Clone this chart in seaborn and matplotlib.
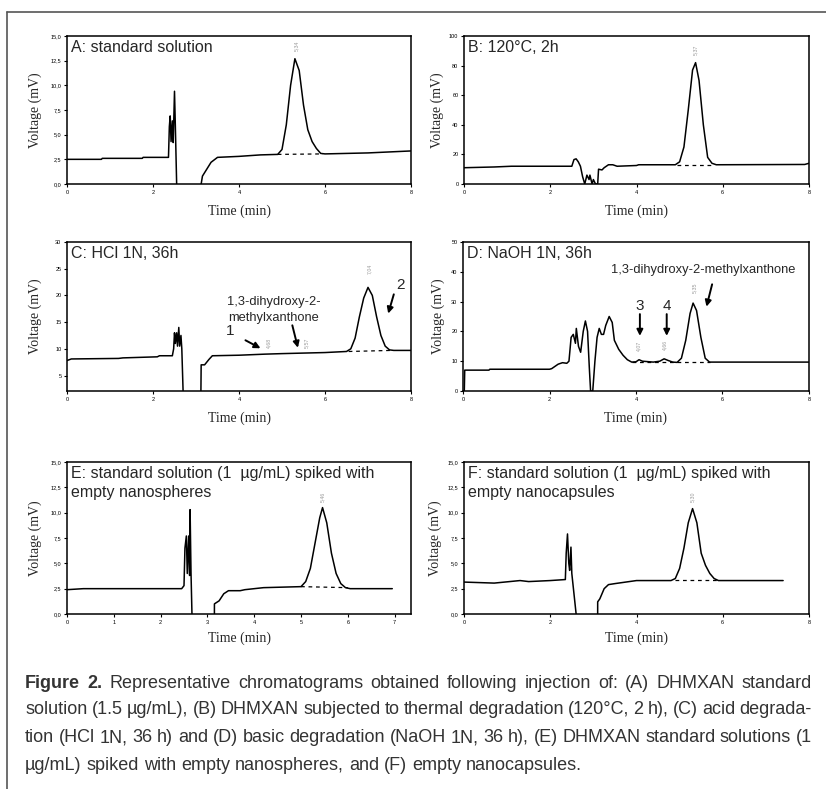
import pandas as pd
import seaborn as sns
import matplotlib.pyplot as plt
from matplotlib.lines import Line2D
from matplotlib import font_manager

# -------------------------------------------------------
# DATA
# -------------------------------------------------------
# A: standard solution
a_time = [0.0, 0.8, 0.82, 1.75, 1.77, 2.36, 2.38, 2.40, 2.42, 2.45, 2.47, 2.50, 2.52, 2.55, 2.56,
          3.12, 3.15, 3.25, 3.35, 3.5, 4.0, 4.5, 4.9, 5.0, 5.1, 5.2, 5.3, 5.4, 5.5, 5.6, 5.7,
          5.8, 5.9, 6.0, 7.0, 8.0]
a_volt = [2.5, 2.5, 2.6, 2.6, 2.7, 2.7, 5.8, 6.9, 4.3, 6.4, 4.2, 9.4, 5.8, 0.0, -20,
          0.0, 0.8, 1.5, 2.2, 2.7, 2.8, 2.95, 3.0, 3.5, 6.0, 10.0, 12.7, 11.5, 8.0, 5.5, 4.3,
          3.6, 3.1, 3.05, 3.15, 3.35]
a_base_time = [4.9, 5.95]
a_base_volt = [3.0, 3.05]
a_peak_x = [5.34]
a_peak_y = [14.0]
a_peak_txt = ["5,34"]

# B: 120°C, 2h
b_time = [0.0, 0.7, 1.1, 2.5, 2.55, 2.6, 2.65, 2.7, 2.75, 2.8, 2.85, 2.9, 2.92, 2.97, 3.0, 3.05,
          3.1, 3.12, 3.2, 3.25, 3.35, 3.45, 3.55, 4.0, 4.05, 4.9, 5.0, 5.1, 5.2, 5.3, 5.37,
          5.45, 5.55, 5.65, 5.75, 5.85, 7.9, 8.0]
b_volt = [11.0, 11.5, 12.0, 12.0, 16.5, 17.0, 15.0, 12.0, 5.0, 0.0, 6.0, 3.0, 6.0, 0.0, 3.0, 0.0,
          0.0, 10.0, 9.5, 11.0, 13.0, 13.0, 12.0, 12.5, 13.0, 13.0, 15.0, 25.0, 50.0, 77.0, 82.0,
          70.0, 40.0, 18.0, 14.0, 13.0, 13.2, 14.0]
b_base_time = [4.95, 5.8]
b_base_volt = [13.0, 13.0]
b_peak_x = [5.37]
b_peak_y = [91.0]
b_peak_txt = ["5,37"]

# C: HCl 1N, 36h
c_time = [0.0, 0.1, 1.2, 1.3, 2.1, 2.15, 2.45, 2.48, 2.5, 2.52, 2.55, 2.57, 2.6, 2.62, 2.65,
          2.67, 2.7, 2.72, 3.1, 3.12, 3.2, 3.25, 3.3, 3.38, 4.0, 4.6, 5.0, 6.0, 6.5, 6.6, 6.7,
          6.8, 6.9, 7.0, 7.1, 7.2, 7.3, 7.4, 7.5, 7.6, 8.0]
c_volt = [7.8, 8.1, 8.2, 8.3, 8.5, 8.7, 8.7, 10.0, 13.0, 11.0, 13.0, 10.5, 14.0, 10.5, 12.5,
          10.0, 2.0, -10, -10, 7.0, 7.0, 7.5, 8.0, 8.7, 8.8, 9.0, 9.1, 9.3, 9.5, 10.0, 12.0,
          16.0, 19.5, 21.5, 20.0, 16.0, 12.5, 10.5, 9.8, 9.7, 9.7]
c_base_time = [6.55, 7.55]
c_base_volt = [9.5, 9.7]
c_peak_x = [4.68, 5.57, 7.04]
c_peak_y = [11.2, 11.2, 25.0]
c_peak_txt = ["4,68", "5,57", "7,04"]

# D: NaOH 1N, 36h
d_time = [0.0, 0.03, 0.04, 0.6, 0.62, 2.0, 2.05, 2.1, 2.2, 2.3, 2.4, 2.45, 2.5, 2.55, 2.6, 2.62,
          2.67, 2.72, 2.78, 2.83, 2.88, 2.92, 2.95, 3.0, 3.05, 3.1, 3.15, 3.2, 3.25, 3.3, 3.38,
          3.45, 3.5, 3.6, 3.7, 3.8, 3.9, 4.0, 4.07, 4.15, 4.4, 4.55, 4.65, 4.75, 4.85, 4.95,
          5.05, 5.15, 5.25, 5.32, 5.4, 5.5, 5.6, 5.7, 8.0]
d_volt = [0.0, 0.0, 7.0, 7.0, 7.3, 7.3, 7.5, 8.0, 9.0, 9.5, 9.3, 10.0, 18.0, 19.0, 16.0, 21.0,
          15.0, 13.0, 20.0, 23.5, 20.0, 8.0, 0.0, 0.0, 10.0, 18.0, 21.0, 19.0, 19.0, 22.0, 25.0,
          23.0, 17.0, 14.0, 12.0, 10.5, 9.7, 9.8, 10.5, 10.0, 9.7, 10.0, 10.8, 10.2, 9.7, 9.6,
          11.0, 17.0, 26.0, 29.5, 27.0, 18.0, 11.0, 9.7, 9.7]
d_base_time = [3.9, 5.7]
d_base_volt = [9.6, 9.6]
d_peak_x = [4.07, 4.66, 5.35]
d_peak_y = [15.3, 15.3, 34.7]
d_peak_txt = ["4,07", "4,66", "5,35"]

# E: standard solution spiked with empty nanospheres
e_time = [0.0, 0.35, 2.45, 2.5, 2.52, 2.55, 2.57, 2.6, 2.62, 2.63, 2.65, 2.67, 2.68,
          3.14, 3.15, 3.25, 3.35, 3.45, 3.7, 3.8, 4.0, 4.2, 5.0, 5.1, 5.2, 5.3, 5.4, 5.46,
          5.55, 5.65, 5.75, 5.85, 5.95, 6.05, 6.95]
e_volt = [2.4, 2.5, 2.5, 2.8, 6.5, 7.7, 4.0, 7.7, 3.8, 10.3, 4.0, 0.0, -20,
          -20, 1.0, 1.3, 2.0, 2.3, 2.3, 2.4, 2.5, 2.6, 2.7, 3.2, 4.5, 7.0, 9.5, 10.5,
          9.0, 6.0, 4.0, 3.0, 2.6, 2.5, 2.5]
e_base_time = [5.0, 6.0]
e_base_volt = [2.7, 2.6]
e_peak_x = [5.46]
e_peak_y = [11.6]
e_peak_txt = ["5,46"]

# F: standard solution spiked with empty nanocapsules
f_time = [0.0, 0.7, 1.3, 1.5, 2.0, 2.35, 2.37, 2.40, 2.43, 2.45, 2.48, 2.50, 2.6, 2.61,
          3.09, 3.1, 3.15, 3.25, 3.35, 3.5, 4.0, 4.8, 4.9, 5.0, 5.1, 5.2, 5.3, 5.4, 5.5, 5.6,
          5.7, 5.8, 5.9, 7.4]
f_volt = [3.15, 3.05, 3.3, 3.2, 3.3, 3.4, 6.0, 7.9, 5.0, 4.3, 6.6, 4.0, 0.0, -20,
          -20, 1.2, 1.5, 2.5, 2.9, 3.0, 3.3, 3.3, 3.5, 4.5, 6.5, 9.0, 10.4, 9.0, 6.0, 4.8,
          4.0, 3.5, 3.3, 3.3]
f_base_time = [4.9, 5.9]
f_base_volt = [3.35, 3.35]
f_peak_x = [5.30]
f_peak_y = [11.6]
f_peak_txt = ["5,30"]

titles = [["A: standard solution"], ["B: 120°C, 2h"], ["C: HCl 1N, 36h"], ["D: NaOH 1N, 36h"],
          ["E: standard solution (1  µg/mL) spiked with", "empty nanospheres"],
          ["F: standard solution (1  µg/mL) spiked with", "empty nanocapsules"]]

comma_ticks = [0.0, 2.5, 5.0, 7.5, 10.0, 12.5, 15.0]
comma_labels = ["0,0", "2,5", "5,0", "7,5", "10,0", "12,5", "15,0"]

caption_lines = [
    "Figure 2. Representative chromatograms obtained following injection of: (A) DHMXAN standard",
    "solution (1.5 µg/mL), (B) DHMXAN subjected to thermal degradation (120°C, 2 h), (C) acid degrada-",
    "tion (HCl 1N, 36 h) and (D) basic degradation (NaOH 1N, 36 h), (E) DHMXAN standard solutions (1",
    "µg/mL) spiked with empty nanospheres, and (F) empty nanocapsules.",
]

# -------------------------------------------------------
# STYLE
# -------------------------------------------------------
sns.set_style("ticks")
plt.rcParams['font.family'] = ['Liberation Sans', 'DejaVu Sans']
SERIF = 'Liberation Serif'
names = {f.name for f in font_manager.fontManager.ttflist}
CAP_FONT = 'Liberation Sans Narrow' if 'Liberation Sans Narrow' in names else 'Liberation Sans'

W, H = 826, 789
fig = plt.figure(figsize=(W / 100, H / 100), dpi=100)


def px_axes(left, top, right, bottom):
    return fig.add_axes([left / W, 1 - bottom / H, (right - left) / W, (bottom - top) / H])


def draw_panel(ax, t, v, bt, bv, px, py, ptxt, title, xlim, ylim, xticks, yticks, ylabels,
               ylab_off, xlab_off):
    df = pd.DataFrame({'Time': t, 'Voltage': v})
    sns.lineplot(data=df, x='Time', y='Voltage', sort=False, estimator=None, ax=ax,
                 color='black', lw=1.1)
    base = pd.DataFrame({'Time': bt, 'Voltage': bv})
    sns.lineplot(data=base, x='Time', y='Voltage', sort=False, estimator=None, ax=ax,
                 color='black', lw=0.9, linestyle=(0, (3, 3)))
    for x, y, s in zip(px, py, ptxt):
        ax.text(x, y, s, rotation=90, ha='center', va='center', fontsize=3.8, color='#9a9a9a')
    ax.set_xlim(*xlim)
    ax.set_ylim(*ylim)
    ax.set_xticks(xticks)
    ax.set_xticklabels([str(x) for x in xticks], fontsize=4)
    ax.set_yticks(yticks)
    ax.set_yticklabels(ylabels, fontsize=4)
    ax.tick_params(direction='out', length=2.5, width=0.8, pad=1.5, colors='black')
    for sp in ax.spines.values():
        sp.set_linewidth(1.1)
        sp.set_color('black')
    ax.set_xlabel('Time (min)', family=SERIF, fontsize=10)
    ax.set_ylabel('Voltage (mV)', family=SERIF, fontsize=10)
    ax.xaxis.set_label_coords(0.5, xlab_off)
    ax.yaxis.set_label_coords(ylab_off, 0.5)
    h = ax.get_window_extent().height
    for k, line in enumerate(title):
        ax.text(0.012, 1 - (4 + 19 * k) / h, line, transform=ax.transAxes, ha='left', va='top',
                fontsize=11.5)


axA = px_axes(67, 36, 411, 184)
draw_panel(axA, a_time, a_volt, a_base_time, a_base_volt, a_peak_x, a_peak_y, a_peak_txt,
           titles[0], (0, 8), (0, 15), [0, 2, 4, 6, 8], comma_ticks, comma_labels,
           -25 / 344, -21 / 148)

axB = px_axes(464, 36, 809, 184)
draw_panel(axB, b_time, b_volt, b_base_time, b_base_volt, b_peak_x, b_peak_y, b_peak_txt,
           titles[1], (0, 8), (0, 100), [0, 2, 4, 6, 8], [0, 20, 40, 60, 80, 100],
           ["0", "20", "40", "60", "80", "100"], -20 / 345, -21 / 148)

axC = px_axes(67, 242, 411, 391)
draw_panel(axC, c_time, c_volt, c_base_time, c_base_volt, c_peak_x, c_peak_y, c_peak_txt,
           titles[2], (0, 8), (2.1, 30), [0, 2, 4, 6, 8], [5, 10, 15, 20, 25, 30],
           ["5", "10", "15", "20", "25", "30"], -25 / 344, -21 / 149)

axD = px_axes(463, 242, 809, 391)
draw_panel(axD, d_time, d_volt, d_base_time, d_base_volt, d_peak_x, d_peak_y, d_peak_txt,
           titles[3], (0, 8), (0, 50), [0, 2, 4, 6, 8], [0, 10, 20, 30, 40, 50],
           ["0", "10", "20", "30", "40", "50"], -18 / 346, -21 / 149)

axE = px_axes(67, 462, 411, 614)
draw_panel(axE, e_time, e_volt, e_base_time, e_base_volt, e_peak_x, e_peak_y, e_peak_txt,
           titles[4], (0, 7.35), (0, 15), [0, 1, 2, 3, 4, 5, 6, 7], comma_ticks, comma_labels,
           -25 / 344, -18 / 152)

axF = px_axes(464, 462, 809, 614)
draw_panel(axF, f_time, f_volt, f_base_time, f_base_volt, f_peak_x, f_peak_y, f_peak_txt,
           titles[5], (0, 8), (0, 15), [0, 2, 4, 6, 8], comma_ticks, comma_labels,
           -22 / 345, -18 / 152)

# annotations with arrows
arr = dict(arrowstyle='-|>', color='black', lw=1.4, mutation_scale=9, shrinkA=0, shrinkB=0)
axC.text(3.8, 13.3, "1", fontsize=11, ha='center', va='center')
axC.annotate("", xy=(4.5, 10.1), xytext=(4.15, 11.6), arrowprops=arr)
axC.text(4.8, 17.3, "1,3-dihydroxy-2-\nmethylxanthone", fontsize=9.3, ha='center',
         va='center', linespacing=1.4)
axC.annotate("", xy=(5.37, 10.2), xytext=(5.24, 14.4), arrowprops=arr)
axC.text(7.75, 22.0, "2", fontsize=11, ha='center', va='center')
axC.annotate("", xy=(7.47, 16.6), xytext=(7.6, 20.2), arrowprops=arr)

axD.text(4.09, 28.6, "3", fontsize=11, ha='center', va='center')
axD.annotate("", xy=(4.09, 18.5), xytext=(4.09, 25.8), arrowprops=arr)
axD.text(4.71, 28.6, "4", fontsize=11, ha='center', va='center')
axD.annotate("", xy=(4.71, 18.5), xytext=(4.71, 25.8), arrowprops=arr)
axD.text(5.55, 40.5, "1,3-dihydroxy-2-methylxanthone", fontsize=9.3, ha='center', va='center')
axD.annotate("", xy=(5.63, 28.3), xytext=(5.76, 35.8), arrowprops=arr)

# frame lines of the figure box
frame_col = '#555555'
fig.add_artist(Line2D([7 / W, 7 / W], [0, 1 - 12 / H], color=frame_col, lw=1.2))
fig.add_artist(Line2D([7 / W, 1], [1 - 12 / H, 1 - 12 / H], color=frame_col, lw=1.2))

# -------------------------------------------------------
# CAPTION (justified word by word)
# -------------------------------------------------------
cap_left, cap_right = 25, 812
cap_y = [683, 710, 738, 765]
cap_size = 13
cap_col = '#333333'
fig.canvas.draw()
renderer = fig.canvas.get_renderer()
for i, line in enumerate(caption_lines):
    words = line.split(' ')
    arts = []
    for j, w in enumerate(words):
        bold = (i == 0 and j < 2)
        t = fig.text(0, 1 - cap_y[i] / H, w, fontsize=cap_size, family=CAP_FONT,
                     fontweight='bold' if bold else 'normal', color=cap_col,
                     ha='left', va='center')
        arts.append(t)
    widths = [a.get_window_extent(renderer).width for a in arts]
    t1 = fig.text(0, 0, 'a b', fontsize=cap_size, family=CAP_FONT)
    t2 = fig.text(0, 0, 'ab', fontsize=cap_size, family=CAP_FONT)
    sw = t1.get_window_extent(renderer).width - t2.get_window_extent(renderer).width
    t1.remove()
    t2.remove()
    if i < len(caption_lines) - 1:
        gap = (cap_right - cap_left - sum(widths)) / max(len(words) - 1, 1)
    else:
        gap = sw
    x = cap_left
    for a, w in zip(arts, widths):
        a.set_x(x / W)
        x += w + gap

fig.savefig('out.png', dpi=100)
